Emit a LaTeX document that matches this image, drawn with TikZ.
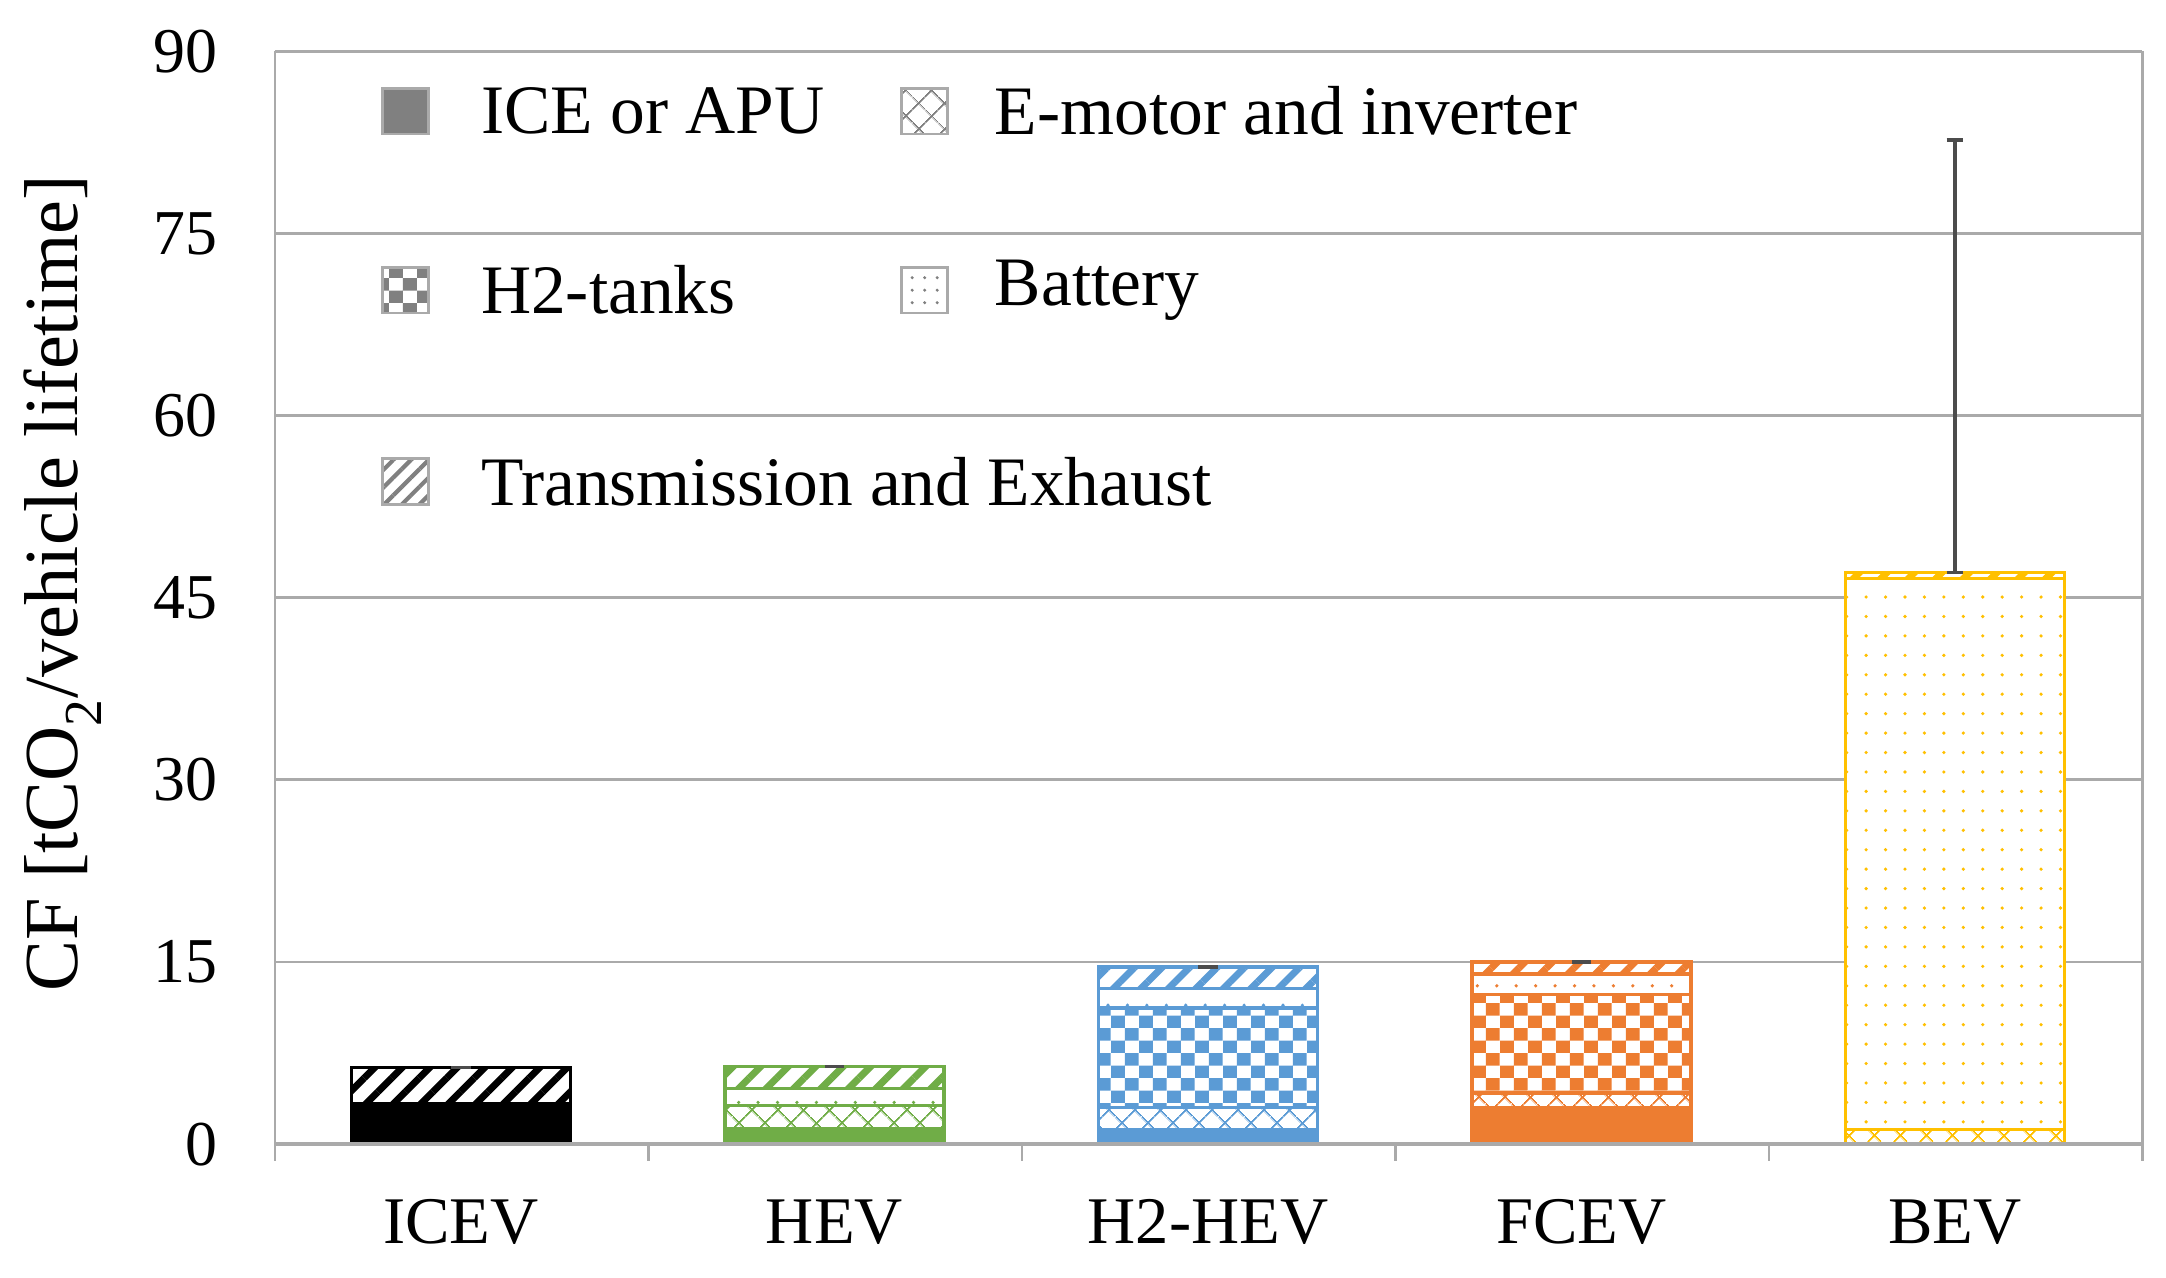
\documentclass[tikz,border=0pt]{standalone}
\usepackage{fontspec}
\setmainfont{Liberation Serif}
\usetikzlibrary{patterns,patterns.meta}
\pgfdeclarepatternformonly{bigcheck}{\pgfpointorigin}{\pgfpoint{20pt}{18pt}}{\pgfpoint{20pt}{18pt}}{%
\pgfpathrectangle{\pgfpointorigin}{\pgfpoint{10pt}{9pt}}%
\pgfpathrectangle{\pgfpoint{10pt}{9pt}}{\pgfpoint{10pt}{9pt}}\pgfusepath{fill}}
\definecolor{gridc}{RGB}{170,170,170}
\definecolor{cgreen}{RGB}{112,173,71}
\definecolor{cblue}{RGB}{91,155,213}
\definecolor{corange}{RGB}{237,125,49}
\definecolor{cgold}{RGB}{255,192,0}
\definecolor{legc}{RGB}{128,128,128}
\tikzset{
 pSolid/.style={fill=#1},
 pHatch/.style={pattern={Lines[angle=45,distance=14pt,line width=5pt]},pattern color=#1},
 pCheck/.style={pattern=bigcheck,pattern color=#1},
 pDots/.style={pattern={Dots[distance=14pt,radius=1.3pt]},pattern color=#1},
 pCross/.style={pattern={Hatch[angle=45,distance=13pt,line width=1.3pt]},pattern color=#1},
 lbl/.style={font=\fontsize{46}{52}\selectfont,text=black},
 leglbl/.style={font=\fontsize{50}{56}\selectfont,text=black,anchor=west},
}
% \seg{xcenter}{v0}{v1}{color}{patternstyle}
\newcommand\seg[5]{%
 \fill[white] (#1-79,#2) rectangle (#1+79,#3);
 \path[#5=#4] (#1-79,#2) rectangle (#1+79,#3);
 \draw[#4,line width=2.5pt] (#1-79,#2) rectangle (#1+79,#3);}
\begin{document}
\begin{tikzpicture}[x=1pt,y=1pt]
\useasboundingbox (0,0) rectangle (1560,920);
\begin{scope}[shift={(0,96)},y=8.744pt]
 \foreach \v in {15,30,...,90} \draw[gridc,line width=2pt] (198,\v) -- (1543,\v);
 \draw[gridc,line width=2pt] (198,0) -- (198,90) (1543,0) -- (1543,90);
 % ICEV
 \seg{332}{0}{3.3}{black}{pSolid}
 \seg{332}{3.3}{6.3}{black}{pHatch}
 % HEV
 \seg{601}{0}{1.3}{cgreen}{pSolid}
 \seg{601}{1.3}{3.2}{cgreen}{pCross}
 \seg{601}{3.2}{4.6}{cgreen}{pDots}
 \seg{601}{4.6}{6.4}{cgreen}{pHatch}
 % H2-HEV
 \seg{870}{0}{1.2}{cblue}{pSolid}
 \seg{870}{1.2}{3.0}{cblue}{pCross}
 \seg{870}{3.0}{11.2}{cblue}{pCheck}
 \seg{870}{11.2}{12.8}{cblue}{pDots}
 \seg{870}{12.8}{14.6}{cblue}{pHatch}
 % FCEV
 \seg{1139}{0}{3.0}{corange}{pSolid}
 \seg{1139}{3.0}{4.2}{corange}{pCross}
 \seg{1139}{4.2}{12.3}{corange}{pCheck}
 \seg{1139}{12.3}{14.0}{corange}{pDots}
 \seg{1139}{14.0}{15.0}{corange}{pHatch}
 % BEV
 \seg{1408}{0}{1.2}{cgold}{pCross}
 \seg{1408}{1.2}{46.6}{cgold}{pDots}
 \seg{1408}{46.6}{47.1}{cgold}{pHatch}
 % error bars
 \draw[black!70,line width=2.5pt] (1408,47.1) -- (1408,82.7) (1402,82.7) -- (1414,82.7) (1402,47.1) -- (1414,47.1);
 \foreach \x/\v in {332/6.3,601/6.4,870/14.6,1139/15.0} \draw[black!70,line width=2.5pt] (\x-7,\v) -- (\x+7,\v);
 \draw[gridc,line width=2.5pt] (198,0) -- (1543,0);
 \foreach \x in {198,467,736,1005,1274,1543} \draw[gridc,line width=2pt] (\x,0) -- (\x,-1.4);
 \foreach \v in {0,15,...,90} \node[lbl,anchor=east] at (160,\v) {\v};
\end{scope}
\foreach \x/\t in {332/ICEV,601/HEV,870/H2-HEV,1139/FCEV,1408/BEV}
 \node[lbl,font=\fontsize{48}{54}\selectfont] (cat\t) at (\x,40) {\t};
\node[lbl,rotate=90,font=\fontsize{55}{60}\selectfont] (ylab) at (45,500) {CF [tCO\textsubscript{2}/vehicle lifetime]};
% legend
\tikzset{legbox/.style={draw=gridc,line width=2pt,minimum size=33pt,inner sep=0pt}}
\node[legbox,fill=legc] (l1) at (292,840) {};
\node[leglbl] at (343,840) {ICE or APU};
\node[legbox,pCross=legc] (l2) at (666,840) {};
\node[leglbl] at (713,840) {E-motor and inverter};
\node[legbox,pCheck=legc] (l3) at (292,711) {};
\node[leglbl] at (343,711) {H2-tanks};
\node[legbox,pattern={Dots[distance=9pt,radius=1.2pt]},pattern color=legc] (l4) at (666,711) {};
\node[leglbl] at (713,711) {Battery};
\node[legbox,pattern={Lines[angle=45,distance=9pt,line width=3pt]},pattern color=legc] (l5) at (292,573) {};
\node[leglbl] at (343,573) {Transmission and Exhaust};
\end{tikzpicture}
\end{document}
